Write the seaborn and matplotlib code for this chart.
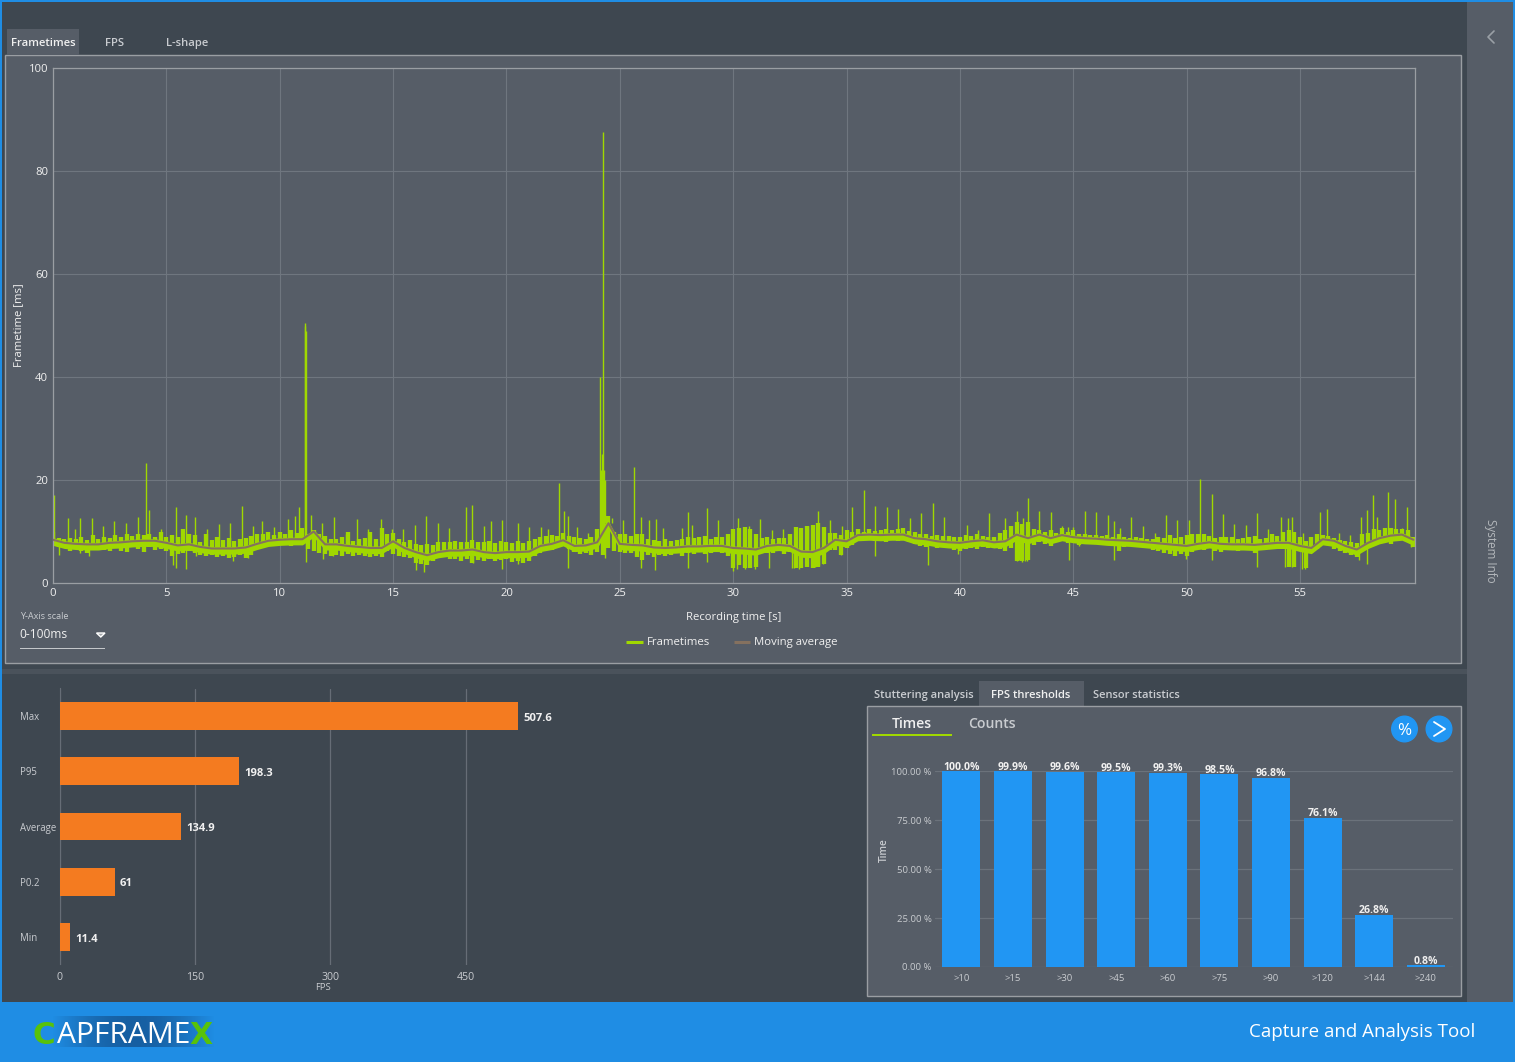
import numpy as np
import pandas as pd
import seaborn as sns
import matplotlib
matplotlib.use("Agg")
import matplotlib.pyplot as plt
from matplotlib.lines import Line2D
from matplotlib.patches import Rectangle, Circle, Polygon

# ---------- data ----------
sample_step = 0.5
avg_ms = [8.4,7.8,7.6,7.5,7.5,7.8,7.9,8.1,8.2,8.2,7.8,7.3,7.5,7.0,6.7,6.7,6.7,6.9,7.6,8.2,
          8.4,8.5,8.5,10.0,7.5,7.5,7.2,7.0,6.8,6.8,8.1,6.8,6.0,5.4,6.0,6.3,6.3,6.5,6.0,5.8,
          6.0,6.0,6.1,7.2,7.6,8.3,7.2,7.3,7.9,11.6,7.6,7.4,7.3,6.9,6.8,6.9,7.1,7.1,7.2,7.2,
          6.8,6.7,6.5,7.2,7.4,7.2,6.1,6.0,6.8,8.4,8.1,9.3,9.4,9.3,9.4,9.4,8.7,8.5,8.1,7.9,
          7.8,8.1,8.3,7.9,8.1,9.4,8.7,9.4,8.7,9.3,8.9,8.7,8.6,8.4,8.3,8.2,8.0,7.8,7.6,7.4,
          7.2,7.6,7.9,7.6,7.5,7.5,7.4,7.6,7.8,7.8,7.2,6.8,8.5,8.2,7.2,6.5,7.8,8.7,9.2,9.4,8.4]
envelope_step = 0.25
band_low = [7.6,6.9,7.1,6.3,6.8,6.2,5.9,6.4,6.7,6.5,6.2,6.9,6.3,6.0,7.0,6.6,6.1,6.9,6.4,6.6,
            6.3,5.2,5.6,5.8,6.3,5.9,5.5,5.3,5.4,5.1,5.3,4.8,5.0,5.4,4.9,5.5,6.6,6.9,7.4,7.2,
            7.4,7.5,7.2,7.4,7.6,6.6,6.2,5.9,5.6,5.2,5.5,5.3,5.6,5.2,5.5,5.3,5.0,5.3,5.1,6.3,
            5.6,5.2,5.1,4.9,3.9,3.6,3.4,4.3,4.8,5.0,4.6,4.7,4.3,4.6,3.9,4.5,4.3,4.6,4.2,4.5,
            4.6,4.1,4.2,3.9,4.3,5.2,5.9,6.4,6.5,6.9,7.2,6.6,6.0,5.7,5.9,5.4,6.1,5.5,6.8,6.3,
            6.1,5.8,5.9,5.0,4.5,5.4,5.0,5.4,5.2,5.5,5.8,5.3,5.8,5.6,6.0,5.6,5.9,6.0,5.8,5.2,
            3.0,3.4,2.9,2.9,3.2,5.8,5.8,5.9,6.2,5.6,6.0,3.0,2.9,3.2,3.0,3.1,3.6,6.5,6.4,5.5,
            6.8,7.3,8.2,8.3,8.5,8.2,8.4,8.0,8.3,8.2,8.4,7.9,7.6,7.2,7.0,7.3,6.8,7.0,6.7,6.5,
            6.2,6.6,6.8,6.6,7.0,6.7,6.9,6.6,6.2,6.8,4.3,4.2,4.4,7.4,8.0,7.6,7.2,7.9,8.1,7.8,
            7.9,7.3,7.7,7.9,7.5,7.7,7.8,7.4,6.3,7.0,7.2,7.1,6.9,6.7,6.5,6.2,5.9,5.6,5.3,5.6,
            5.2,6.0,7.0,6.5,6.8,6.3,6.0,6.5,6.7,6.2,6.8,6.4,5.8,6.5,6.8,6.9,7.0,6.8,3.2,3.2,
            6.5,2.9,5.8,6.6,7.3,7.4,6.6,6.2,5.8,5.4,5.0,7.0,7.0,7.4,7.7,8.1,7.6,8.2,8.6,8.4,7.0]
band_high = [10,8.7,8.5,8.7,8.5,9.0,8.4,9.3,8.5,8.9,8.8,9.4,8.9,9.6,9.1,9.6,9.3,9.5,9.0,9.9,
             9.0,9.3,9.0,10.5,9.5,9.3,8.0,9.5,8.3,9.0,8.3,8.8,8.2,8.6,8.7,9.2,9.5,9.6,9.9,9.4,
             9.9,9.6,10.2,9.7,10.6,9.5,10.3,9.5,9.2,8.6,8.5,9.0,10,8.2,8.5,8.8,10,8.5,10.6,9.5,
             9.8,8.5,8.0,8.4,7.5,7.4,7.5,7.3,8.0,8.0,7.9,8.2,8.0,7.9,8.3,8.0,7.9,8.1,7.8,8.1,
             8.0,7.8,8.2,7.8,8.1,8.5,8.9,9.1,9.3,9.1,9.8,9.2,9.0,8.7,8.5,8.9,10.5,14,13,10,
             9.5,9.6,9.2,9.6,9.6,8.6,8.4,8.2,8.6,8.2,8.3,8.5,9.0,8.8,8.9,9.2,8.6,8.9,9.0,9.6,
             10.5,10.6,10.8,10.5,9.5,8.7,9.0,8.6,8.8,8.7,9.5,10.8,10.6,11,11.2,11.6,10.8,9.8,9.8,9.4,
             10.2,10,10.4,10,10.4,10.1,10.2,10.4,10.2,10.5,10.6,10.1,9.9,9.6,9.5,9.2,9.4,9.1,9.2,8.9,
             9.0,9.4,9.1,9.6,9.2,9.0,8.9,9.8,10.2,11,11.8,11.5,11.8,10.4,10.2,10.0,10.2,9.7,10.6,10,
             10.2,9.6,9.5,9.4,9.4,9.1,9.3,9.0,9.5,8.9,8.8,9.0,8.7,8.5,8.6,8.9,8.8,9.3,8.8,8.9,
             9.3,9.5,9.6,9.5,9.2,8.8,9.0,9.0,8.9,8.6,8.7,8.9,9.2,8.6,8.7,9.5,9.2,10,10.3,10,
             9.0,8.2,8.9,9.5,9.3,9.2,8.7,8.3,8.2,8.0,7.8,9.6,9.8,10.5,10.2,10.6,10.6,10.4,10.4,10.3,9.0]
up_t = [0.05,0.66,0.95,1.2,1.7,2.2,2.7,3.2,3.75,4.09,4.25,4.78,5.43,5.85,6.28,6.8,7.3,7.8,8.32,8.84,
        9.2,9.74,10.38,10.66,10.87,11.1,11.13,11.17,11.38,11.88,12.4,12.94,13.4,13.9,14.48,14.97,15.44,15.96,16.46,17,17.47,
        18.2,18.5,19.0,19.3,19.8,20.5,21,21.54,21.85,22.32,22.55,22.7,23.1,23.6,24.13,24.17,24.21,24.25,24.3,24.35,24.65,25.16,25.64,
        25.95,26.27,26.6,26.9,27.75,28,28.2,28.85,29.35,30.2,30.7,31.2,31.7,32.2,33.3,33.75,34.25,34.8,35.25,35.77,
        36.27,36.77,37.27,37.8,38.3,38.8,39.3,40.3,40.8,41.3,42,42.5,42.8,43,43.5,44,44.5,44.75,45,45.5,
        46,46.55,46.8,47.05,47.55,48.07,48.6,49.07,49.58,50.1,50.6,51.1,51.6,52.1,52.6,53.1,53.6,54.15,54.45,54.65,
        55.15,55.9,56.2,56.7,57.2,57.7,57.95,58.2,58.4,58.9,59.2,59.5,59.7]
up_v = [17,12.6,10.5,12.7,12.6,11.1,12.1,11.6,12.8,23.3,14.2,10.4,14.8,13.3,12.8,10.4,11.5,11.6,14.9,11,
        12.1,10.9,12.4,13.1,14.8,50.5,50,49,13.3,11.6,12.8,9.5,12.5,10.5,12.4,10.5,10.5,11.3,13.1,11.6,10.7,
        14.8,15.2,11,12,12.3,11.6,10.9,10.9,10.5,19.4,13.9,13.1,10.9,9.7,40,22,25,87.5,22,20,12.6,12.3,22.5,
        12.8,12.3,12.4,10.7,10.7,13.8,11.3,14.6,12.3,12.6,11,12.4,10.2,10.5,11.1,14,12.3,11,14.8,18.1,
        14.9,14.7,14.4,12.6,13.5,15.5,12.9,11.3,10.2,13.6,12.6,13.9,12.6,16.6,14,13.7,11,10.9,10.9,14,
        13.8,13.2,12.1,10.7,12.8,11.1,9.8,13.3,12.3,12.3,20.2,17.2,13.4,11.5,11.2,13.5,10.5,12.8,12.6,12.8,
        9.7,13.7,14.4,9.8,9.4,12.8,14.2,17,12.8,17.7,16.3,10.7,14.8]
down_t = [0.28,1.2,1.6,5.3,5.44,5.88,6.3,7.95,8.6,11.15,11.9,12.35,16,16.35,18.53,19.8,20.5,22.7,24.35,25.95,
          26.57,28,28.85,30,30.15,30.5,30.95,31.6,32.6,32.7,32.9,33.6,33.8,33.95,34.75,36.25,38.6,39.9,42.5,42.6,
          42.75,42.85,42.95,44.8,46.8,45.25,49.97,51.1,53.1,54.35,54.65,55.1,55.2,57.6,57.95,59.9]
down_v = [5.5,5.8,5.3,3.4,2.9,2.7,5.3,4.2,4.9,4.1,4.7,5.2,2.6,2.1,3.9,2.7,3.6,3,4.9,2.9,
          2.6,2.9,4,2.4,2.7,2.7,2.7,2.9,2.9,3,2.7,3.2,3.4,3.6,5.5,5.2,3.4,5.7,4.2,4.4,
          4,4.3,4.2,4.5,4.5,7.1,4.7,4.5,3.1,3.1,3.2,2.7,2.7,4.5,3.6,7]

fps_labels = ["Max","P95","Average","P0.2","Min"]
fps_values = [507.6,198.3,134.9,61,11.4]
fps_texts = ["507.6","198.3","134.9","61","11.4"]

thr_labels = [">10",">15",">30",">45",">60",">75",">90",">120",">144",">240"]
thr_values = [100.0,99.9,99.6,99.5,99.3,98.5,96.8,76.1,26.8,0.8]

# ---------- style ----------
sns.set_style("dark")
plt.rcParams["font.family"] = ["Open Sans","DejaVu Sans"]
W,H = 1515,1062
DARK="#3e4750"; PANEL="#565d67"; EDGE="#9a9ea3"; BLUE="#1f8de4"; BAR_BLUE="#2196f3"
GREEN="#a0d800"; BROWN="#85715f"; ORANGE="#f47b20"; TXT="#f0f0f0"; SOFT="#c9ccd0"
px=lambda v:v*0.72

fig=plt.figure(figsize=(W/100,H/100),dpi=100,facecolor=DARK)
bg=fig.add_axes([0,0,1,1],zorder=0)
bg.set_xlim(0,W); bg.set_ylim(H,0); bg.axis("off")
def rect(x0,y0,x1,y1,fc,ec="none",lw=0,z=1):
    bg.add_patch(Rectangle((x0,y0),x1-x0,y1-y0,facecolor=fc,edgecolor=ec,linewidth=lw,zorder=z))
def txt(x,y,s,size,color=SOFT,ha="left",weight="normal",rot=0,z=5,family=None):
    va="center" if rot else "center_baseline"
    t_=bg.text(x,y,s,fontsize=px(size),color=color,ha=ha,va=va,fontweight=weight,rotation=rot,zorder=z)
    if family: t_.set_family(family)

def axes_px(x0,y0,x1,y1):
    return fig.add_axes([x0/W,1-y1/H,(x1-x0)/W,(y1-y0)/H],zorder=2,facecolor="none")

# chrome
rect(0,0,W,2,BLUE,z=4); rect(0,0,2,H,BLUE,z=4); rect(W-2,0,W,H,BLUE,z=4)
rect(0,1002,W,H,BLUE,z=4)
rect(1467,2,1513,1002,PANEL)
rect(2,669,1467,674,"#4a525b")
rect(4.5,54.5,1460.5,662.5,PANEL,EDGE,1)
rect(7,29,79,55,PANEL)
txt(43,42,"Frametimes",11.3,TXT,"center","semibold")
txt(115,42,"FPS",11.3,SOFT,"center","semibold")
txt(187,42,"L-shape",11.3,SOFT,"center","semibold")
bg.plot([1494,1488,1494],[31,37,43],color="#9aa0a6",lw=1.2,zorder=5)
txt(1491,551,"System Info",11.6,"#b4b8bc","center",rot=-90)
txt(20,615.5,"Y-Axis scale",9.2,SOFT)
txt(19.5,633.5,"0-100ms",12,TXT)
bg.add_patch(Polygon([[96.5,633],[105,633],[100.8,637]],facecolor="#a4a8ac",zorder=5))
rect(20,648,105,649,"#c4c7ca",z=5)

# main chart
ax=axes_px(53,68,1414.5,583)
t_env=np.arange(len(band_low))*envelope_step
t=np.arange(len(avg_ms))*sample_step
# comb of frame times around a thin solid core along the moving average
ax.vlines(t_env,band_low,band_high,color=GREEN,lw=3.1,zorder=2)
ax.fill_between(t,np.array(avg_ms)-1.1,np.array(avg_ms)+0.4,color=GREEN,lw=0,zorder=2)
base_up=[avg_ms[int(round(v/sample_step))] for v in up_t]
base_dn=[avg_ms[int(round(v/sample_step))] for v in down_t]
ax.vlines(up_t,base_up,up_v,color=GREEN,lw=1.0,zorder=2)
ax.vlines(down_t,base_dn,down_v,color=GREEN,lw=1.0,zorder=2)
sns.lineplot(x=t,y=avg_ms,color=BROWN,lw=1.5,ax=ax,zorder=3,legend=False)
ax.set_xlim(0,60.05); ax.set_ylim(0,100)
ax.set_xticks(range(0,60,5)); ax.set_yticks(range(0,101,20))
ax.grid(True,color="#6f767f",lw=0.8); ax.set_axisbelow(True)
ax.tick_params(length=0,colors=TXT,labelsize=px(11.2),pad=3.5)
for s in ax.spines.values(): s.set_color("#9a9ea3"); s.set_linewidth(0.9)
ax.set_xlabel("Recording time [s]",fontsize=px(11.3),color=TXT,labelpad=9.5)
ax.set_ylabel("Frametime [ms]",fontsize=px(11.3),color=TXT)
ax.yaxis.set_label_coords((24-53)/1361.5,(583-325)/515)
ax.legend(handles=[Line2D([],[],color=GREEN,lw=2.2,solid_capstyle="butt",label="Frametimes"),
                   Line2D([],[],color=BROWN,lw=2.2,solid_capstyle="butt",label="Moving average")],
          loc="center",bbox_to_anchor=(0.4988,-0.1165),ncol=2,frameon=False,fontsize=px(11.4),
          labelcolor=TXT,handlelength=1.42,handletextpad=0.36,columnspacing=2.1)

# FPS bars
a2=axes_px(59.5,688.5,860,964.5)
sns.barplot(x=fps_values,y=fps_labels,color=ORANGE,saturation=1,width=0.507,ax=a2,zorder=3,linewidth=0,edgecolor="none")
a2.set_xlim(0,800.5/0.9033)
a2.set_ylim(4.5,-0.5)
a2.set_xticks([0,150,300,450])
a2.grid(True,axis="x",color="#666d76",lw=0.9); a2.grid(False,axis="y"); a2.set_axisbelow(True)
a2.tick_params(axis="x",length=0,colors=SOFT,labelsize=px(10.5),pad=5.5)
a2.tick_params(axis="y",length=0,colors=SOFT,labelsize=px(9.7),pad=px(39.5))
for l in a2.get_yticklabels():
    l.set_ha("left"); l.set_va("center_baseline")
for k in ["top","right","bottom"]: a2.spines[k].set_visible(False)
a2.spines["left"].set_color("#666d76")
for lab in a2.bar_label(a2.containers[0],labels=fps_texts,padding=3.5,color=TXT,fontsize=px(11.3),fontweight="bold"):
    lab.xyann=(3.8,-1.6)
a2.set_xlabel("FPS",fontsize=px(9.5),color=SOFT)
a2.xaxis.set_label_coords((323-59.5)/800.5,(964.5-983)/276)

# lower right panel
rect(979,681,1084,707,PANEL)
rect(866.5,705.5,1460.5,996,PANEL,EDGE,1)
txt(924,694,"Stuttering analysis",11.1,SOFT,"center","semibold")
txt(1031,694,"FPS thresholds",11.3,TXT,"center","semibold")
txt(1136,694,"Sensor statistics",11.1,SOFT,"center","semibold")
txt(912,723,"Times",14,TXT,"center","semibold")
txt(992,723,"Counts",14,SOFT,"center","semibold")
rect(872,734,952,736,GREEN,z=5)
bg.add_patch(Circle((1404.5,729),12.8,color=BAR_BLUE,zorder=5))
bg.add_patch(Circle((1439,729),12.8,color=BAR_BLUE,zorder=5))
txt(1404.5,729,"%",17,"white","center",z=6)
bg.plot([1434,1445,1434],[722,729,736],color="white",lw=1.3,zorder=6)
txt(884,850,"Time",10,SOFT,"center","semibold",rot=90)

a3=axes_px(934.5,771.3,1452.5,967)
sns.barplot(x=thr_labels,y=thr_values,color=BAR_BLUE,saturation=1,width=0.736,ax=a3,zorder=3,linewidth=0,edgecolor="none")
a3.set_xlim(-0.523,9.516); a3.set_ylim(0,100)
a3.set_yticks([0,25,50,75,100]); a3.set_yticklabels(["0.00 %","25.00 %","50.00 %","75.00 %","100.00 %"])
a3.grid(True,axis="y",color="#6b727b",lw=0.9); a3.grid(False,axis="x"); a3.set_axisbelow(True)
a3.tick_params(length=0,colors=SOFT,labelsize=px(9.5))
a3.tick_params(axis="y",pad=2); a3.tick_params(axis="x",pad=5)
for l in a3.get_yticklabels(): l.set_va("center_baseline")
for s in a3.spines.values(): s.set_visible(False)
a3.bar_label(a3.containers[0],labels=[f"{v:.1f}%" for v in thr_values],padding=-1,color=TXT,
             fontsize=px(10.5),fontweight="bold")
a3.set_xlabel(""); a3.set_ylabel("")

# footer
grad=np.zeros((1,120,4))
grad[0,:,:3]=matplotlib.colors.to_rgb("#14508c")
grad[0,:,3]=np.sin(np.linspace(0,np.pi,120))*0.75
bg.imshow(grad,extent=(52,215,1047,1016),aspect="auto",zorder=5)
bg.set_xlim(0,W); bg.set_ylim(H,0)
txt(32,1032,"C",31,"#58c20a",weight="bold",z=6,family="DejaVu Sans")
txt(57,1032,"APFRAME",30,"white",z=6)
txt(189.5,1032,"X",30,"#58c20a",weight="bold",z=6,family="DejaVu Sans")
txt(1475,1030,"Capture and Analysis Tool",18.8,"white","right",z=6)

fig.savefig("out.png",dpi=100,facecolor=DARK)
